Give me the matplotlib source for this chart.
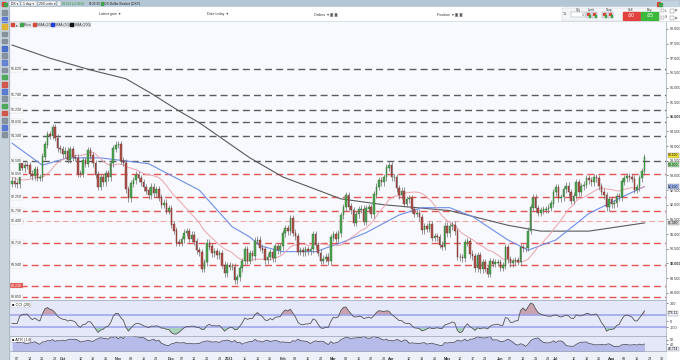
import matplotlib.pyplot as plt
from matplotlib.patches import Rectangle
import numpy as np
import pandas as pd

plt.rcParams['font.family'] = ['Liberation Sans', 'DejaVu Sans']

W, H = 680, 360

# daily closes of the US Dollar Basket
prior_closes = [93.43, 93.61, 93.58, 93.39, 93.35, 93.09, 92.88, 92.27, 92.90, 92.79,
                93.18, 93.05, 92.98, 93.02, 92.99, 92.38, 92.14, 92.34, 92.71]
closes = [
    92.81, 92.72,
    92.70, 93.43, 93.24, 93.34, 93.33,
    93.05, 92.97, 93.20, 92.92, 92.93,
    93.64, 94.05, 94.40, 94.36, 94.64,
    94.28, 93.92, 93.89, 93.72, 93.84,
    93.53, 93.88, 93.62, 93.60, 93.06,
    93.05, 93.52, 93.40, 93.86, 93.68,
    93.42, 93.03, 92.61, 92.94, 92.76,
    93.06, 92.94, 93.41, 93.91, 94.04,
    94.05, 93.50, 93.43, 92.53, 92.23,
    92.72, 92.84, 93.02, 92.91, 92.76,
    92.59, 92.48, 92.33, 92.61, 92.39,
    92.52, 92.24, 92.00, 92.06, 91.79,
    91.87, 91.32, 91.12, 90.71, 90.70,
    90.83, 91.04, 91.08, 90.84, 90.97,
    90.74, 90.45, 90.38, 89.81, 90.03,
    90.70, 90.57, 90.34, 90.41, 90.28,
    90.34, 89.95, 89.67, 89.94, 89.88,
    89.88, 89.43, 89.52, 89.83, 90.08,
    90.47, 90.09, 90.34, 90.24, 90.77,
    90.80, 90.53, 90.47, 90.11, 90.22,
    90.38, 90.17, 90.59, 90.45, 90.58,
    91.02, 91.19, 91.10, 91.53, 91.04,
    90.92, 90.39, 90.43, 90.38, 90.47,
    90.41, 90.48, 90.98, 90.62, 90.36,
    90.09, 90.15, 90.22, 90.08, 90.88,
    91.00, 90.82, 91.03, 91.64, 91.92,
    92.31, 91.94, 91.82, 91.39, 91.68,
    91.83, 91.86, 91.42, 91.87, 91.92,
    91.68, 92.34, 92.61, 92.83, 92.76,
    92.94, 93.27, 93.33, 92.93, 92.94,
    92.57, 92.32, 92.47, 92.04, 92.18,
    92.21, 91.84, 91.69, 91.72, 91.58,
    91.13, 91.26, 91.18, 91.32, 90.87,
    90.93, 90.89, 90.63, 90.57, 91.28,
    91.02, 91.27, 91.31, 91.09, 90.22,
    90.21, 90.17, 90.71, 90.75, 90.32,
    90.24, 89.83, 90.28, 89.80, 90.03,
    89.82, 89.64, 90.07, 89.98, 90.02,
    90.03, 89.85, 89.92, 90.54, 90.14,
    90.01, 90.08, 90.11, 90.05, 90.55,
    90.52, 90.53, 91.11, 91.90, 92.23,
    91.88, 91.73, 91.80, 91.83, 91.85,
    91.89, 92.04, 92.43, 92.58, 92.23,
    92.25, 92.53, 92.64, 92.42, 92.13,
    92.30, 92.75, 92.43, 92.63, 92.68,
    92.89, 92.84, 92.77, 92.93, 92.90,
    92.63, 92.44, 92.33, 91.91, 92.18,
    92.02, 92.05, 92.29, 92.25, 92.79,
    92.91, 92.98, 92.93, 92.88, 92.52,
    92.60, 92.90, 93.14, 93.62,
]
WICK = 0.12

# moving averages (candle index, value)
sma50_idx = [0, 12, 22, 35, 54, 74, 87, 94, 98, 107, 120, 130, 140, 153, 162, 173, 182, 196, 204, 215, 228, 242, 250]
sma50_val = [94.10, 93.35, 93.60, 93.60, 93.40, 92.50, 91.25, 90.90, 90.60, 90.40, 90.40, 90.70, 91.05,
             91.65, 91.90, 91.90, 91.60, 90.80, 90.45, 90.80, 91.70, 92.30, 92.62]
sma200_idx = [0, 15, 31, 45, 55, 66, 74, 94, 107, 130, 147, 173, 196, 209, 228, 250]
sma200_val = [97.45, 97.00, 96.60, 96.30, 95.80, 95.20, 94.80, 93.60, 92.95, 92.20, 92.00, 91.80,
              91.30, 91.10, 91.10, 91.38]

gray_levels = [96.62, 95.74, 95.23, 94.83, 94.34, 93.50]
red_levels = [93.05, 92.25, 91.79, 90.71, 89.94, 89.23, 88.85]
pink_level = 91.44

# ---- derived series ----
c = np.array(closes)
n0 = len(prior_closes)
all_c = np.r_[prior_closes, closes]
all_o = np.r_[all_c[0], all_c[:-1]]
all_h = np.maximum(all_o, all_c) + WICK
all_l = np.minimum(all_o, all_c) - WICK
o, hi, lo = all_o[n0:], all_h[n0:], all_l[n0:]
x = np.arange(len(c))
dates = pd.bdate_range('2020-09-03', periods=len(c) + 8)

sma20 = pd.Series(all_c).rolling(20).mean().to_numpy()[n0:]
tp = pd.Series((all_h + all_l + all_c) / 3)
mad = tp.rolling(20).apply(lambda v: np.mean(np.abs(v - v.mean())), raw=True)
cci = ((tp - tp.rolling(20).mean()) / (0.015 * mad)).to_numpy()[n0:]
prev_c = np.r_[all_c[0], all_c[:-1]]
tr = np.maximum(all_h, prev_c) - np.minimum(all_l, prev_c)
atr = pd.Series(tr).rolling(14).mean().to_numpy()[n0:] * 100

# ---- figure ----
fig = plt.figure(figsize=(6.8, 3.6), dpi=100)
fig.patch.set_facecolor('white')


def box(x0, y0, x1, y1):
    return [x0 / W, 1 - y1 / H, (x1 - x0) / W, (y1 - y0) / H]


# light strip behind the date labels
fig.add_artist(Rectangle((9 / W, 0), 657 / W, 9 / H, transform=fig.transFigure,
                         color='#eef1f8', zorder=-1))

ax = fig.add_axes(box(9, 21, 666, 300))
cci_ax = fig.add_axes(box(9, 300, 666, 336), sharex=ax)
atr_ax = fig.add_axes(box(9, 336, 666, 351), sharex=ax)

for a, bg in [(ax, '#f7f9fe'), (cci_ax, '#e4e8f8'), (atr_ax, '#e4e8f8')]:
    a.set_facecolor(bg)
    a.yaxis.tick_right()
    a.tick_params(axis='y', labelsize=2.7, length=1.5, width=0.4, pad=1.0, colors='#333333')
    a.tick_params(axis='x', bottom=False, labelbottom=False)
    for s in a.spines.values():
        s.set_color('#9aa4b4')
        s.set_linewidth(0.5)

ax.set_xlim(-1.2, 258.5)
ax.set_ylim(88.75, 98.27)

# horizontal levels
for lv in gray_levels:
    ax.axhline(lv, color='#5c5c5c', lw=1.0, dashes=(5, 3), zorder=1)
for lv in red_levels:
    ax.axhline(lv, color='#e5534f', lw=1.0, dashes=(5, 3), zorder=1)
ax.axhline(pink_level, color='#f2a5a5', lw=0.8, dashes=(5, 3), zorder=1)

# moving averages
ax.plot(sma200_idx, sma200_val, color='#5a5a5a', lw=0.8, zorder=2)
ax.plot(sma50_idx, sma50_val, color='#6f8ee8', lw=0.8, zorder=2)
ax.plot(x, sma20, color='#eba3ab', lw=0.7, zorder=2)

# candles
up = c >= o
ax.vlines(x, lo, hi, color='#6e6e6e', lw=0.5, zorder=3)
ax.bar(x[up], (c - o)[up] + 0.01, bottom=o[up], width=0.62, color='#4ea64e',
       edgecolor='#2e6e2e', lw=0.3, zorder=4)
ax.bar(x[~up], (o - c)[~up] + 0.01, bottom=c[~up], width=0.62, color='#b0524c',
       edgecolor='#6e2e2a', lw=0.3, zorder=4)

ticks = np.arange(89.0, 98.01, 0.5)
ax.set_yticks(ticks)
ax.set_yticklabels([f'{t:.3f}' for t in ticks])
for lab, t in zip(ax.get_yticklabels(), ticks):
    if t % 5 == 0:
        lab.set_fontweight('bold')


def tag(a, y, text, fc, tc='#111111'):
    a.text(1.003, y, text, transform=a.get_yaxis_transform(), fontsize=2.4, va='center',
           ha='left', color=tc, clip_on=False, zorder=20,
           bbox=dict(boxstyle='square,pad=0.12', fc=fc, ec='#888888', lw=0.3))


tag(ax, c[-1] + 0.07, f'{c[-1]:.3f}', '#f2e23a')
tag(ax, gray_levels[-1] - 0.13, f'{gray_levels[-1]:.3f}', '#8fd88f')
tag(ax, sma50_val[-1], f'{sma50_val[-1]:.3f}', '#9fb6f5')
tag(ax, sma200_val[-1], f'{sma200_val[-1]:.3f}', '#d6d6d6')

# level labels on the left
for lv in gray_levels + red_levels + [pink_level]:
    red = lv == 89.23
    ax.text(0.003, lv, f'{lv:.3f}', transform=ax.get_yaxis_transform(), fontsize=2.6,
            va='center', ha='left', color='white' if red else '#333333', zorder=6,
            bbox=dict(boxstyle='square,pad=0.15', fc='#e5534f' if red else 'white',
                      ec='#bbbbbb', lw=0.2))

# CCI panel
cci_ax.set_ylim(-246, 355)
cci_ax.axhline(100, color='#9aa2ea', lw=1.1)
cci_ax.axhline(-100, color='#9aa2ea', lw=1.1)
cci_ax.fill_between(x, cci, 100, where=cci > 100, interpolate=True, color='#c9a4b0', lw=0)
cci_ax.fill_between(x, cci, -100, where=cci < -100, interpolate=True, color='#a9d2bb', lw=0)
cci_ax.plot(x, cci, color='#555555', lw=0.6)
cci_ax.set_yticks([300, 0, -100])
cci_ax.set_yticklabels(['300', '0', '-100'])
tag(cci_ax, 130, f'{cci[-1]:.2f}', '#eef0fb')
cci_ax.text(0.004, 0.93, '■ CCI (20)', transform=cci_ax.transAxes, fontsize=2.8, va='top',
            color='#222222', bbox=dict(boxstyle='square,pad=0.15', fc='white', ec='#aaaaaa', lw=0.2))

# ATR panel
atr_ax.set_ylim(33, 56)
atr_ax.fill_between(x, atr, 0, color='#b6bbe9', lw=0)
atr_ax.plot(x, atr, color='#555566', lw=0.6)
atr_ax.set_yticks([50, 43])
atr_ax.set_yticklabels(['50', '40'])
tag(atr_ax, 36, f'{atr[-1]:.3f}', '#eef0fb')
atr_ax.text(0.004, 0.9, '■ ATR (14)', transform=atr_ax.transAxes, fontsize=2.8, va='top',
            color='#222222', bbox=dict(boxstyle='square,pad=0.15', fc='white', ec='#aaaaaa', lw=0.2))

# date labels
tk, tl, tb = [], [], []
for i, d in enumerate(dates):
    if i > 0 and d.month != dates[i - 1].month:
        if tk and i - tk[-1] < 3:
            tk.pop(); tl.pop(); tb.pop()
        tk.append(i)
        tl.append('2021' if d.month == 1 else d.strftime('%b'))
        tb.append(True)
    elif d.weekday() == 0 and (not tk or i - tk[-1] >= 3):
        tk.append(i)
        tl.append(d.strftime('%d'))
        tb.append(False)
atr_ax.set_xticks(tk)
atr_ax.set_xticklabels(tl)
atr_ax.tick_params(axis='x', labelbottom=True, labelsize=2.7, pad=0.6, colors='#333333')
for lab, b in zip(atr_ax.get_xticklabels(), tb):
    if b:
        lab.set_fontweight('bold')

# ---- platform chrome (toolbars) ----
ui = fig.add_axes([0, 0, 1, 1], zorder=10)
ui.set_xlim(0, W)
ui.set_ylim(H, 0)
ui.axis('off')
ui.patch.set_alpha(0)

ui.add_patch(Rectangle((0, 0), W, 7, color='#b3c6d4'))
ui.add_patch(Rectangle((0, 7), W, 14, color='white'))
ui.plot([0, W], [21, 21], color='#c9d3dc', lw=0.5)
ui.add_patch(Rectangle((0, 7), 8.5, H - 7, color='#c8d2db'))
ui.plot([8.7, 8.7], [7, H], color='#9aa6b2', lw=0.4)

ui.add_patch(Rectangle((2, 1.5), 3, 4, color='#d24a3a'))
ui.add_patch(Rectangle((4, 2.5), 3, 3, color='#3fa34a'))
for x0, x1, t in [(9, 20, 'DX ▾'), (21, 37, '1 day ▾'), (38, 56, '250 units ▾'), (57, 61, '')]:
    ui.add_patch(Rectangle((x0, 1), x1 - x0, 5, fc='#eef2f5', ec='#8b9aa7', lw=0.3))
    ui.text((x0 + x1) / 2, 3.6, t, fontsize=2.4, ha='center', va='center', color='#222222')
ui.text(62.5, 3.6, '93.623 (+0.04%)', fontsize=2.2, va='center', color='#2e9a2e')
ui.text(89, 3.6, '09:29:39', fontsize=2.2, va='center', color='#222222')
ui.add_patch(Rectangle((100.5, 2), 2.5, 3, color='#3fa34a'))
ui.text(104, 3.6, 'US Dollar Basket (DXY)', fontsize=2.4, va='center', color='#222222')
ui.add_patch(Rectangle((656, 1), 22, 5, color='#c3d3de'))
ui.add_patch(Rectangle((657, 1.5), 3, 4, color='#d24a3a'))
ui.add_patch(Rectangle((659, 2.5), 3, 3, color='#3fa34a'))

for xc, t in [(110, 'Latest gain  ▾'), (218, 'Date today  ▾'), (326, 'Orders  ▾ ▣ ▣'), (450, 'Position  ▾ ▣ ▣')]:
    ui.text(xc, 14, t, fontsize=2.6, ha='center', va='center', color='#333333')
ui.add_patch(Rectangle((562, 8), 98, 12.5, fc='#f3f5f7', ec='#c5ccd3', lw=0.3))
ui.text(565, 14, '⇅', fontsize=3, ha='center', va='center', color='#555555')
for xc, t in [(578, 'Qty'), (591, 'Limit'), (609, 'Stop'), (631, 'Sell'), (650, 'Buy')]:
    ui.text(xc, 9.8, t, fontsize=2.3, ha='center', va='center', color='#333333')
ui.add_patch(Rectangle((571, 12), 14, 5, fc='white', ec='#8b9aa7', lw=0.3))
ui.text(583, 14.5, '1', fontsize=2.3, ha='center', va='center', color='#333333')
for x0 in [586, 592, 602, 608]:
    ui.add_patch(Rectangle((x0, 12), 5, 6, fc='#e8ecef', ec='#8b9aa7', lw=0.3))
    ui.add_patch(Rectangle((x0 + 1, 13), 1.5, 2, color='#d24a3a'))
    ui.add_patch(Rectangle((x0 + 2.5, 15), 1.5, 2, color='#3fa34a'))
ui.add_patch(Rectangle((623, 12), 17, 7.5, color='#e2423d'))
ui.text(631.5, 15.8, '.60', fontsize=3.6, ha='center', va='center', color='white')
ui.add_patch(Rectangle((641, 12), 17, 7.5, color='#3cb83c'))
ui.text(649.5, 15.8, '.65', fontsize=3.6, ha='center', va='center', color='white')
for yc, t in [(10.5, 'L'), (17.5, 'S')]:
    ui.add_patch(Rectangle((661, yc - 1.5), 3, 3, fc='white', ec='#777777', lw=0.3))
    ui.text(665, yc, t, fontsize=2.3, va='center', color='#333333')
    ui.add_patch(Rectangle((670, yc - 2), 4, 4, fc='white', ec='#777777', lw=0.3))
    ui.text(674.5, yc, 'pts', fontsize=1.8, va='center', color='#333333')

icon_colors = ['#7d8a96', '#4d6fd0', '#e0b020', '#7d8a96', '#7d8a96', '#3a62c8', '#7d8a96',
               '#5a7ad0', '#7d8a96', '#3fa34a', '#d24a3a', '#4d6fd0', '#7d8a96', '#3fa34a',
               '#d24a3a', '#7d8a96', '#4d6fd0', '#7d8a96']
for k, col in enumerate(icon_colors):
    ui.add_patch(Rectangle((2, 10 + k * 7.2), 4.5, 4.5, color=col, alpha=0.85))

ui.add_patch(Rectangle((10, 22), 80, 5, fc='#e6e8ee', ec='#c0c4cc', lw=0.3))
ui.add_patch(Rectangle((11, 23), 3, 3, color='#d24a3a'))
ui.text(16, 24.6, '▸', fontsize=2.6, va='center', color='#555555')
for x0, col, t in [(20, '#3fa34a', 'Price'), (33, '#d24a3a', 'SMA (20)'),
                   (51, '#2040e0', 'SMA (50)'), (70, '#111111', 'SMA (200)')]:
    ui.add_patch(Rectangle((x0, 23), 3, 3, color=col))
    ui.text(x0 + 4, 24.6, t, fontsize=2.5, va='center', color='#333333')

fig.savefig('out.png', dpi=100)
